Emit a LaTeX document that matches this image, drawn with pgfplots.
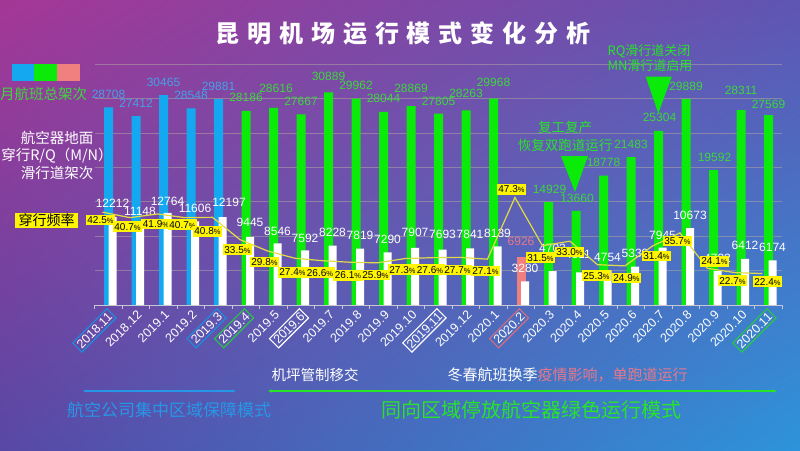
\documentclass[border=0pt]{standalone}
\usepackage{pgfplots}
\pgfplotsset{compat=1.18}
\usepackage{pgfplotstable}
\usetikzlibrary{arrows.meta,shadings}
\usepackage{fontspec}
\setmainfont{Liberation Sans}
\newfontfamily\cjk{Noto Sans CJK SC}
\newfontfamily\titlefont[LetterSpace=33]{Noto Sans CJK SC}

\definecolor{bgUL}{RGB}{165,55,150}
\definecolor{bgUR}{RGB}{95,85,178}
\definecolor{bgLL}{RGB}{88,72,165}
\definecolor{bgLR}{RGB}{45,148,218}
\definecolor{bblue}{RGB}{20,168,240}
\definecolor{bgreen}{RGB}{10,235,10}
\definecolor{bpink}{RGB}{240,128,128}
\definecolor{lblue}{RGB}{70,160,230}
\definecolor{lgreen}{RGB}{60,215,60}
\definecolor{lpink}{RGB}{230,120,140}
\definecolor{ybox}{RGB}{255,245,0}
\definecolor{lineY}{RGB}{225,220,70}
\definecolor{gridc}{RGB}{175,165,160}
\definecolor{axisgray}{RGB}{200,200,212}
\definecolor{arrowblue}{RGB}{40,150,230}
\definecolor{agreen}{RGB}{40,228,40}
\definecolor{boxgreen}{RGB}{40,200,70}
\definecolor{boxblue}{RGB}{30,140,225}
\definecolor{boxpink}{RGB}{210,110,130}

\newcommand\bx[2]{{\setlength\fboxsep{1.5pt}\setlength\fboxrule{1.1pt}\color{#1}\fbox{\color{white}#2}}}

\pgfplotsset{/pgf/number format/assume math mode=true}

% totals: i value ys(yshift) dx
\pgfplotstableread{
i v ys dx
0 28708 8.7 0
1 27412 8.7 0
2 30465 8.7 0
3 28548 8.7 0
4 29881 8.7 0
}\totblue
\pgfplotstableread{
i v ys dx
5 28186 8.7 0
6 28616 14.7 2.5
7 27667 8.7 0
8 30889 11.7 0
9 29962 8.7 0
10 28044 8.7 0
11 28869 13.7 0
12 27805 7.7 0
13 28263 12.7 0
14 29968 11.7 0
16 14929 8.7 1
17 13660 7.7 1
18 18778 8.7 0
19 21483 8.7 0
20 25304 8.7 1
21 29889 8.7 0
22 19592 8.7 1
23 28311 15.7 0
24 27569 6.7 0
}\totgreen
\pgfplotstableread{
i v ys dx
15 6926 11.7 0
}\totpink
% crossing flights
\pgfplotstableread{
i v ys dx
0 12212 9.7 0
1 11148 8.7 0
2 12764 6.7 0
3 11606 8.7 0
4 12197 10.7 6.5
5 9445 9.7 0
6 8546 7.7 0
7 7592 7.7 0
8 8228 8.7 0
9 7819 8.7 0
10 7290 8.7 0
11 7907 10.7 0
12 7693 10.7 0
13 7841 9.7 0
14 8139 8.7 0
15 3280 8.7 0
16 4703 18.7 0
17 4511 13.7 -2
18 4754 8.7 0
19 5339 8.7 0
20 7945 7.7 0
21 10673 8.7 0
22 4722 8.7 0
23 6412 8.7 0
24 6174 8.7 0
}\cross
% crossing rate
\pgfplotstableread{
i r dx dy
0 42.5 -2 -8
1 40.7 -2.5 -9
2 41.9 -1.5 -10
3 40.7 -2.5 -7
4 40.8 -5 -14
5 33.5 -2.5 -10
6 29.8 -3 -11
7 27.4 -2.5 -14
8 26.6 -2.5 -12
9 26.1 -2 -13
10 25.9 -2 -12
11 27.3 -2.5 -11
12 27.6 -2.5 -12
13 27.7 -2.5 -12.5
14 27.1 -2 -12
15 47.3 -3.5 8
16 31.5 -2 -12
17 33.0 -0.5 -11
18 25.3 -1 -11
19 24.9 1.5 -12
20 31.4 4 -10
21 35.7 -2.5 -8
22 24.1 7 7
23 22.7 -2.5 -8
24 22.4 5 -8
}\rate

\pgfplotsset{
  base/.style={
    scale only axis, width=687.5pt, height=241pt,
    at={(94.75pt,145pt)}, anchor=south west,
    xmin=-0.5, xmax=24.5, ymin=0,
    clip=false,
  },
  barlab/.style={
    nodes near coords={\pgfmathprintnumber[fixed,precision=0,1000 sep={}]{\pgfplotspointmeta}},
    point meta=explicit,
    visualization depends on={\thisrow{ys} \as \myys},
    visualization depends on={\thisrow{dx} \as \mydx},
    every node near coord/.append style={anchor=south, inner sep=0pt,
      font=\fontsize{12}{12}\selectfont, text=#1, yshift=\myys pt, xshift=\mydx pt},
  },
}

\begin{document}
\begin{tikzpicture}[x=1pt,y=1pt]
\useasboundingbox (0,0) rectangle (800,450);
\shade[upper left=bgUL, upper right=bgUR, lower left=bgLL, lower right=bgLR] (0,0) rectangle (800,450);

% totals axis
\begin{axis}[base, ymax=35000, ybar,
  axis x line*=bottom, axis y line*=left,
  y axis line style={draw=none}, ytick style={draw=none},
  ytick={5000,10000,...,35000}, yticklabels={}, scaled y ticks=false,
  ymajorgrids,
  major grid style={gridc, line width=0.7pt, opacity=0.55},
  x axis line style={axisgray, line width=0.9pt},
  xtick={0,...,24}, major x tick style={draw=none},
  minor xtick={-0.5,0.5,...,24.5},
  minor x tick style={axisgray, line width=0.8pt},
  minor tick length=4pt, tick align=outside,
  xticklabels={{\bx{boxblue}{2018.11}},2018.12,2019.1,2019.2,{\bx{boxblue}{2019.3}},{\bx{boxgreen}{2019.4}},2019.5,{\bx{white}{2019.6}},2019.7,2019.8,2019.9,2019.10,{\bx{white}{2019.11}},2019.12,2020.1,{\bx{boxpink}{2020.2}},2020.3,2020.4,2020.5,2020.6,2020.7,2020.8,2020.9,2020.10,{\bx{boxgreen}{2020.11}}},
  xticklabel style={rotate=45, anchor=east, text=white, inner sep=1pt,
    font=\fontsize{12.5}{13}\selectfont, yshift=-5pt, xshift=1pt},
]
\addplot[ybar, bar width=9pt, bar shift=0pt, fill=bblue, draw=none, barlab=lblue]
  table[x=i, y=v, meta=v] {\totblue};
\addplot[ybar, bar width=9pt, bar shift=0pt, fill=bgreen, draw=none, barlab=lgreen]
  table[x=i, y=v, meta=v] {\totgreen};
\addplot[ybar, bar width=9pt, bar shift=0pt, fill=bpink, draw=none, barlab=lpink]
  table[x=i, y=v, meta=v] {\totpink};
% annotation triangles
\fill[bgreen] (axis cs:16.455,21638) -- (axis cs:17.436,21638) -- (axis cs:16.964,16410) -- cycle;
\fill[bgreen] (axis cs:19.535,33154) -- (axis cs:20.48,33154) -- (axis cs:19.993,27839) -- cycle;
\end{axis}

% crossing flights axis
\begin{axis}[base, ymax=33430, ybar, hide axis]
\addplot[ybar, bar width=8pt, bar shift=4pt, fill=white, draw=none, barlab=white]
  table[x=i, y=v, meta=v] {\cross};
\end{axis}

% rate axis
\begin{axis}[base, ymin=12.1, ymax=91, hide axis]
\addplot[lineY, line width=1.2pt, mark=none,
  nodes near coords={\pgfmathprintnumber[fixed,fixed zerofill,precision=1]{\pgfplotspointmeta}{\fontsize{7.5}{8}\selectfont\%}},
  point meta=explicit,
  visualization depends on={\thisrow{dx} \as \mydx},
  visualization depends on={\thisrow{dy} \as \mydy},
  every node near coord/.append style={anchor=center, fill=ybox, text=black,
    inner xsep=1.5pt, inner ysep=1.8pt, font=\fontsize{10}{10}\selectfont,
    xshift=\mydx pt, yshift=\mydy pt},
] table[x expr=\thisrow{i}-0.22, y=r, meta=r] {\rate};
\end{axis}

% title
\node[text=white, font=\titlefont\bfseries\fontsize{24}{24}\selectfont] at (403,417) {昆明机场运行模式变化分析};

% left legend
\fill[bblue] (12,369) rectangle (34,386);
\fill[bgreen] (34,369) rectangle (57,386);
\fill[bpink] (57,369) rectangle (80,386);
\node[anchor=west, text=lgreen, font=\cjk\fontsize{14.5}{15}\selectfont, inner sep=0pt] at (0,356) {月航班总架次};
\node[align=center, text=white, font=\cjk\fontsize{14.5}{17.5}\selectfont] at (57,295) {航空器地面\\穿行R/Q（M/N）\\滑行道架次};
\node[fill=ybox, text=black, font=\cjk\fontsize{14}{14}\selectfont, minimum width=63pt, minimum height=15pt, inner sep=0pt] at (46.5,229.5) {穿行频率};

% annotations
\node[text=agreen, font=\cjk\fontsize{13.5}{14}\selectfont] at (565,323) {复工复产};
\node[text=agreen, font=\cjk\fontsize{13.5}{14}\selectfont] at (565,305) {恢复双跑道运行};
\node[anchor=west, text=agreen, font=\cjk\fontsize{13}{13}\selectfont] at (604,399) {RQ滑行道关闭};
\node[anchor=west, text=agreen, font=\cjk\fontsize{13}{13}\selectfont] at (604,384) {MN滑行道启用};

% bottom
\node[text=white, font=\cjk\fontsize{14.5}{15}\selectfont] at (315,75) {机坪管制移交};
\node[anchor=west, font=\cjk\fontsize{15}{15}\selectfont] at (444,75) {\textcolor{white}{冬春航班换季}\textcolor{lpink}{疫情影响，单跑道运行}};
\draw[arrowblue, line width=1.2pt, {Stealth[length=4pt]}-{Stealth[length=4pt]}] (83,59) -- (236,59);
\draw[agreen, line width=1.2pt, {Stealth[length=4pt]}-{Stealth[length=4pt]}] (268,59) -- (777,59);
\node[text=arrowblue, font=\cjk\fontsize{17}{17}\selectfont] at (169,40) {航空公司集中区域保障模式};
\node[text=agreen, font=\cjk\fontsize{20}{20}\selectfont] at (531,40) {同向区域停放航空器绿色运行模式};
\end{tikzpicture}
\end{document}
